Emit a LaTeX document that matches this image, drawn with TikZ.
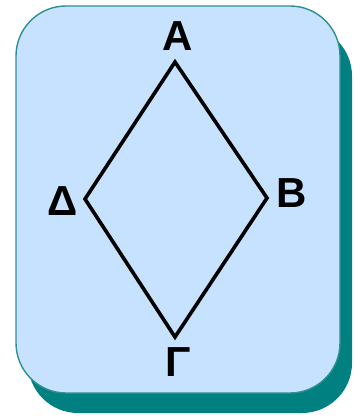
\documentclass[tikz,border=0pt]{standalone}
\usepackage{fontspec}
\setmainfont{Liberation Sans}
\begin{document}
\begin{tikzpicture}[x=1pt,y=-1pt,
  card/.style={fill=cardblue,draw=cardedge,line width=1.4pt,rounded corners=50pt},
  shadowbox/.style={fill=shadowteal,rounded corners=50pt},
  vlabel/.style={font=\fontsize{42}{42}\selectfont\bfseries,inner sep=0pt},
  rhomb/.style={line width=3.6pt,line join=miter}]
\definecolor{cardblue}{HTML}{C6E2FF}
\definecolor{cardedge}{HTML}{2E9090}
\definecolor{shadowteal}{HTML}{008080}
\useasboundingbox (0,0) rectangle (355,417);
\fill[shadowbox] (28,26) rectangle (352,413);
\draw[card] (16,6) rectangle (340,393);
\coordinate (A) at (175,62);
\coordinate (B) at (267,198);
\coordinate (G) at (175,337);
\coordinate (D) at (85,199);
\draw[rhomb] (A) -- (B) -- (G) -- (D) -- cycle;
\node[vlabel] (lA) at (177.5,36) {A};
\node[vlabel] (lB) at (291.5,193) {B};
\node[vlabel] (lG) at (178,362) {Γ};
\node[vlabel] (lD) at (63,201) {Δ};
\end{tikzpicture}
\end{document}
